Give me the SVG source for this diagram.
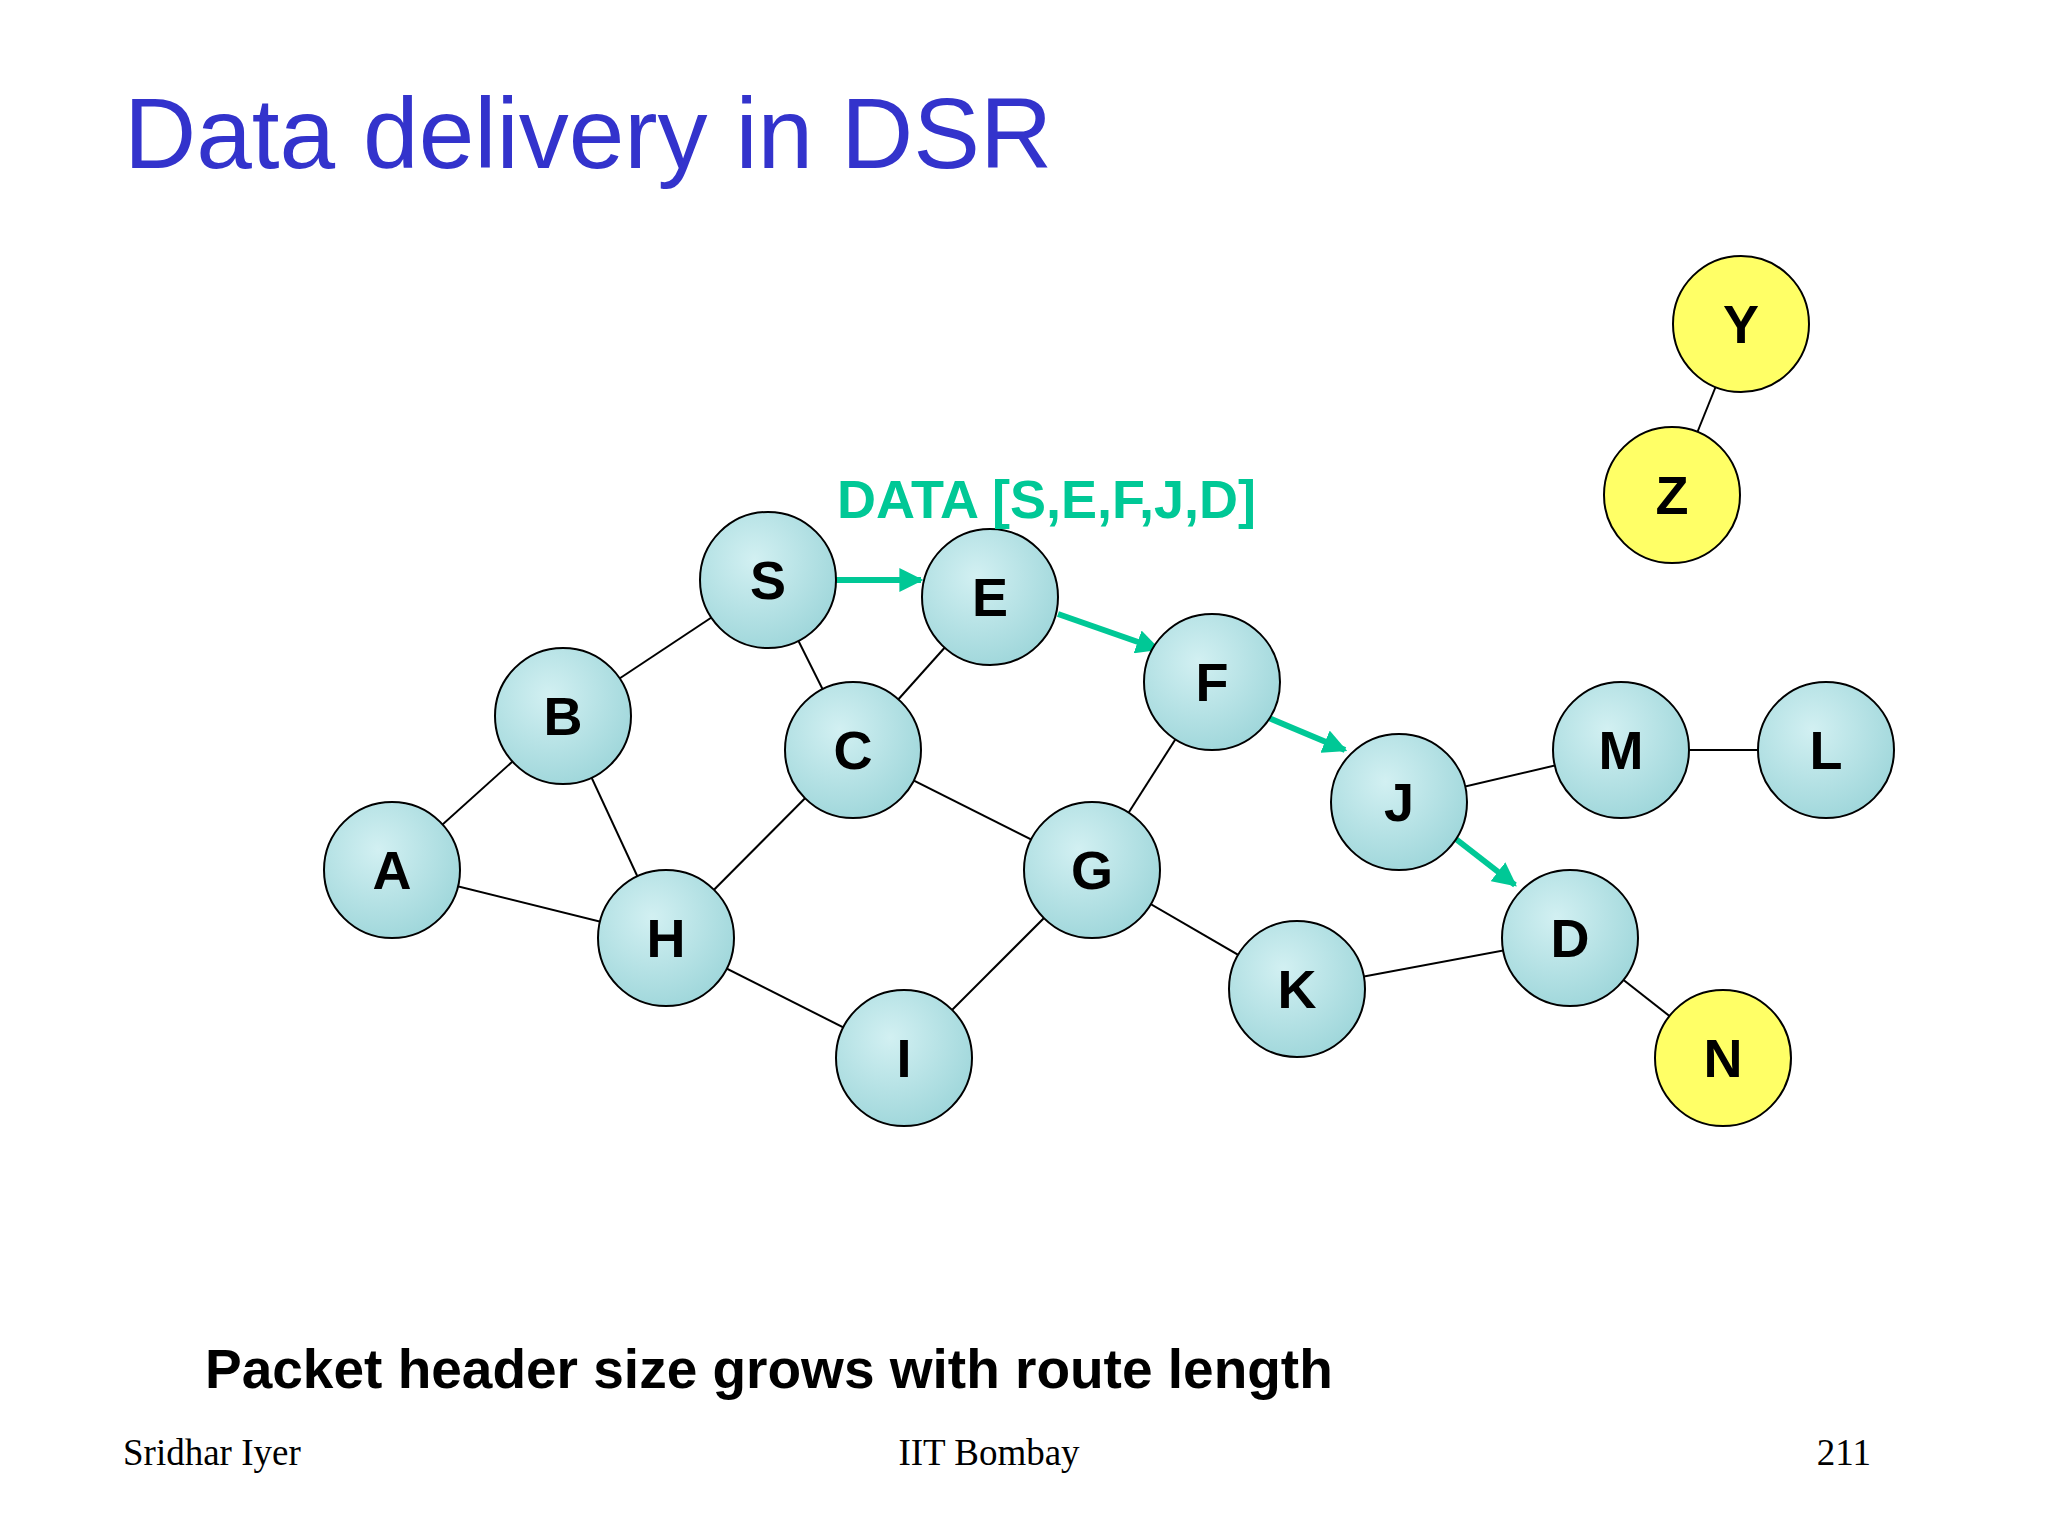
<svg xmlns="http://www.w3.org/2000/svg" width="2048" height="1536" viewBox="0 0 2048 1536">
<style>
.n{fill:url(#g);stroke:#000;stroke-width:2}
.y{fill:#FFFF66;stroke:#000;stroke-width:2}
.l{font-family:"Liberation Sans",Arial,sans-serif;font-weight:bold;font-size:54px;text-anchor:middle;fill:#000}
.e{stroke:#000;stroke-width:2}
.a{stroke:#00C896;stroke-width:6;marker-end:url(#m)}
.f{font-family:"Liberation Serif",serif;font-size:37px;fill:#000}
</style>
<defs>
<radialGradient id="g" cx="0.4" cy="0.35" r="0.7"><stop offset="0" stop-color="#D2F0F2"/><stop offset="1" stop-color="#9ED6DA"/></radialGradient>
<marker id="m" viewBox="0 0 10 10" refX="9" refY="5" markerWidth="4" markerHeight="4" orient="auto" markerUnits="strokeWidth"><path d="M0,0L10,5L0,10z" fill="#00C896"/></marker>
</defs>
<rect width="2048" height="1536" fill="#fff"/>
<text x="124" y="168" font-family="Liberation Sans,Arial,sans-serif" font-size="100" fill="#3333CC">Data delivery in DSR</text>
<g id="connectors">
<line class="e" x1="768" y1="580" x2="563" y2="716"/>
<line class="e" x1="768" y1="580" x2="853" y2="750"/>
<line class="e" x1="990" y1="597" x2="853" y2="750"/>
<line class="e" x1="853" y1="750" x2="666" y2="938"/>
<line class="e" x1="853" y1="750" x2="1092" y2="870"/>
<line class="e" x1="563" y1="716" x2="392" y2="870"/>
<line class="e" x1="563" y1="716" x2="666" y2="938"/>
<line class="e" x1="392" y1="870" x2="666" y2="938"/>
<line class="e" x1="666" y1="938" x2="904" y2="1058"/>
<line class="e" x1="904" y1="1058" x2="1092" y2="870"/>
<line class="e" x1="1092" y1="870" x2="1212" y2="682"/>
<line class="e" x1="1092" y1="870" x2="1297" y2="989"/>
<line class="e" x1="1297" y1="989" x2="1570" y2="938"/>
<line class="e" x1="1570" y1="938" x2="1723" y2="1058"/>
<line class="e" x1="1399" y1="802" x2="1621" y2="750"/>
<line class="e" x1="1621" y1="750" x2="1826" y2="750"/>
<line class="e" x1="1741" y1="324" x2="1672" y2="495"/>
<line class="a" x1="836" y1="580" x2="921" y2="580"/>
<line class="a" x1="1058" y1="614" x2="1158" y2="649"/>
<line class="a" x1="1264" y1="716" x2="1345" y2="750"/>
<line class="a" x1="1452" y1="836" x2="1515" y2="885"/>
</g>
<g id="S"><circle class="n" cx="768" cy="580" r="68"/><text class="l" x="768" y="599">S</text></g>
<g id="E"><circle class="n" cx="990" cy="597" r="68"/><text class="l" x="990" y="616">E</text></g>
<g id="F"><circle class="n" cx="1212" cy="682" r="68"/><text class="l" x="1212" y="701">F</text></g>
<g id="J"><circle class="n" cx="1399" cy="802" r="68"/><text class="l" x="1399" y="821">J</text></g>
<g id="M"><circle class="n" cx="1621" cy="750" r="68"/><text class="l" x="1621" y="769">M</text></g>
<g id="L"><circle class="n" cx="1826" cy="750" r="68"/><text class="l" x="1826" y="769">L</text></g>
<g id="D"><circle class="n" cx="1570" cy="938" r="68"/><text class="l" x="1570" y="957">D</text></g>
<g id="N"><circle class="y" cx="1723" cy="1058" r="68"/><text class="l" x="1723" y="1077">N</text></g>
<g id="K"><circle class="n" cx="1297" cy="989" r="68"/><text class="l" x="1297" y="1008">K</text></g>
<g id="G"><circle class="n" cx="1092" cy="870" r="68"/><text class="l" x="1092" y="889">G</text></g>
<g id="C"><circle class="n" cx="853" cy="750" r="68"/><text class="l" x="853" y="769">C</text></g>
<g id="B"><circle class="n" cx="563" cy="716" r="68"/><text class="l" x="563" y="735">B</text></g>
<g id="A"><circle class="n" cx="392" cy="870" r="68"/><text class="l" x="392" y="889">A</text></g>
<g id="H"><circle class="n" cx="666" cy="938" r="68"/><text class="l" x="666" y="957">H</text></g>
<g id="I"><circle class="n" cx="904" cy="1058" r="68"/><text class="l" x="904" y="1077">I</text></g>
<g id="Y"><circle class="y" cx="1741" cy="324" r="68"/><text class="l" x="1741" y="343">Y</text></g>
<g id="Z"><circle class="y" cx="1672" cy="495" r="68"/><text class="l" x="1672" y="514">Z</text></g>
<text x="837" y="518" font-family="Liberation Sans,Arial,sans-serif" font-weight="bold" font-size="54" fill="#00C896">DATA [S,E,F,J,D]</text>
<text x="205" y="1388" font-family="Liberation Sans,Arial,sans-serif" font-weight="bold" font-size="55" fill="#000">Packet header size grows with route length</text>
<text class="f" x="123" y="1465">Sridhar Iyer</text>
<text class="f" x="989" y="1465" text-anchor="middle">IIT Bombay</text>
<text class="f" x="1871" y="1465" text-anchor="end">211</text>
</svg>
